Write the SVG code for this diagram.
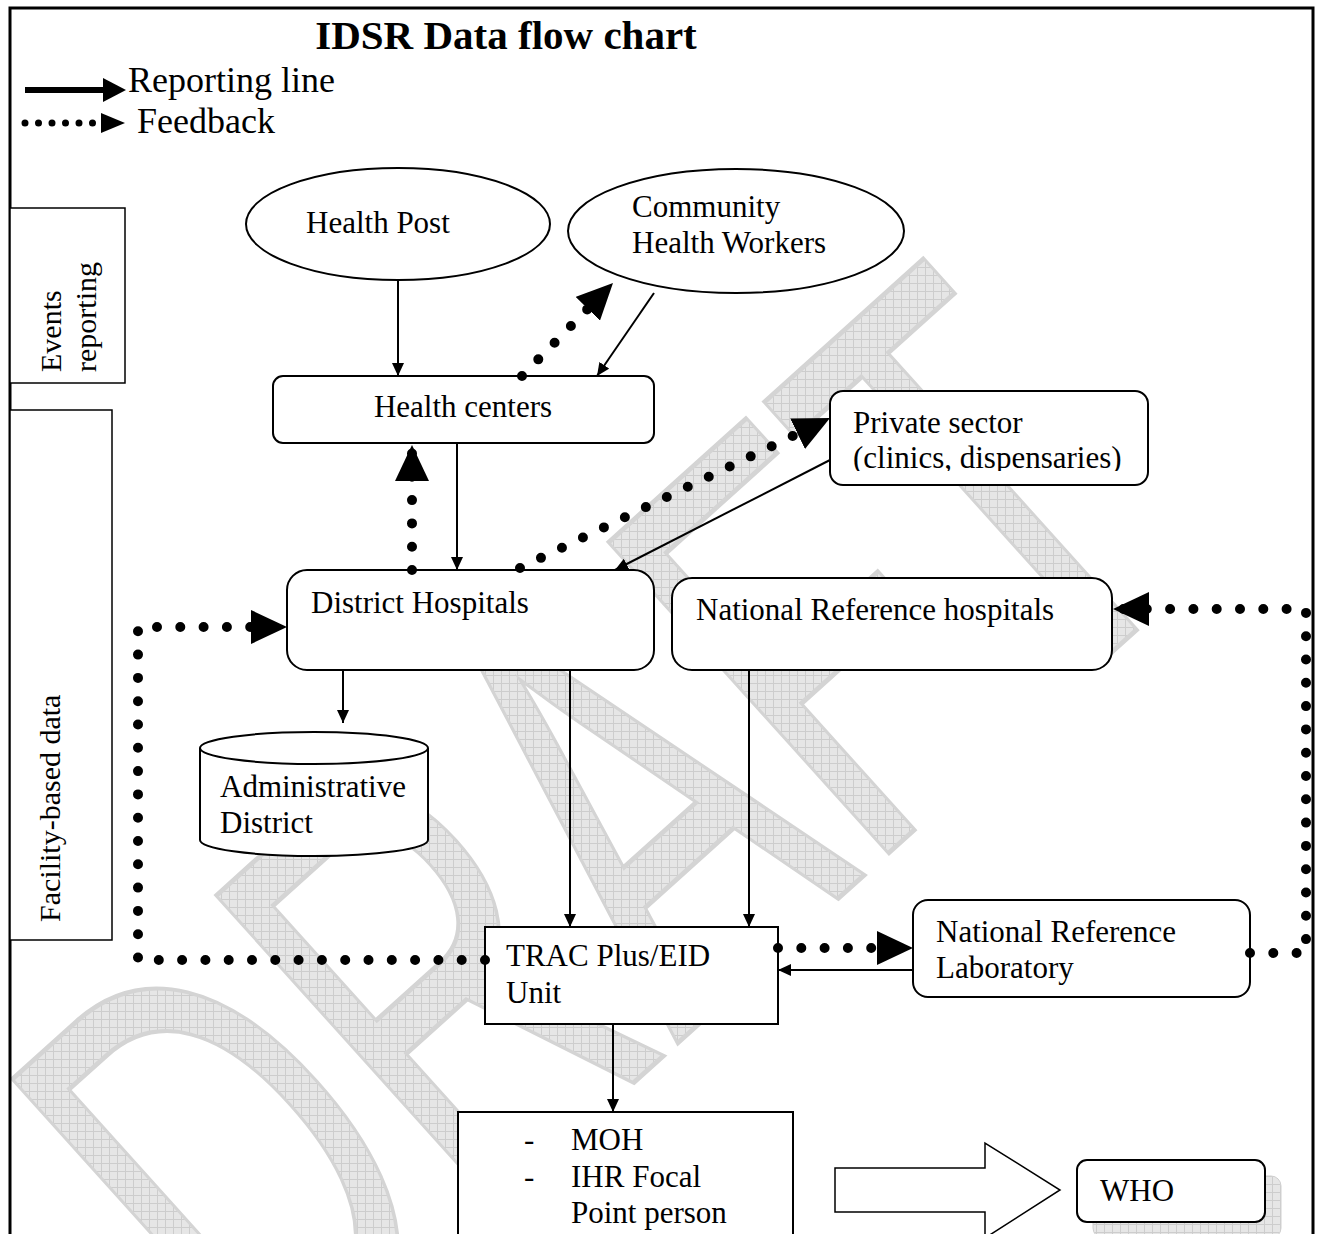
<svg xmlns="http://www.w3.org/2000/svg" width="1320" height="1234" viewBox="0 0 1320 1234">
<style>
text{font-family:"Liberation Serif","Times New Roman",serif;font-size:31px;fill:#000}
.title{font-size:41px;font-weight:bold}
.leg{font-size:36px}
.box{fill:#fff;stroke:#000;stroke-width:2}
.solid{fill:none;stroke:#000;stroke-width:2;marker-end:url(#sa)}
.dot{fill:none;stroke:#000;stroke-width:10;stroke-linecap:round;stroke-dasharray:0 23.3;marker-end:url(#da)}
</style>
<defs>
<pattern id="hatch" width="8" height="8" patternUnits="userSpaceOnUse">
<rect width="8" height="8" fill="#e6e6e6"/>
<path d="M0,0.5H8M0.5,0V8" stroke="#cdcdcd" stroke-width="1"/>
</pattern>
<pattern id="hatchR" width="8" height="8" patternUnits="userSpaceOnUse" patternTransform="scale(1,0.625) rotate(42)">
<rect width="8" height="8" fill="#e6e6e6"/>
<path d="M0,0.5H8M0.5,0V8" stroke="#cdcdcd" stroke-width="1"/>
</pattern>
<marker id="sa" markerUnits="userSpaceOnUse" markerWidth="13" markerHeight="12" refX="13" refY="6" orient="auto">
<path d="M0,0L13,6L0,12z" fill="#000"/>
</marker>
<marker id="da" markerUnits="userSpaceOnUse" markerWidth="36" markerHeight="34" refX="36" refY="17" orient="auto">
<path d="M0,0L36,17L0,34z" fill="#000"/>
</marker>
<clipPath id="psclip"><rect x="830" y="391" width="318" height="80"/></clipPath>
</defs>

<g id="watermark">
<text x="0" y="0" transform="translate(269,1411) rotate(-42) scale(1,1.6)" style="font-family:'Liberation Sans',Arial,sans-serif;font-size:380px;fill:url(#hatchR);stroke:#d4d4d4;stroke-width:3">DRAFT</text>
</g>

<path id="border" d="M10,1234V8H1313V1234" fill="none" stroke="#000" stroke-width="3"/>

<g id="title"><text class="title" x="506" y="49" text-anchor="middle">IDSR Data flow chart</text></g>

<g id="legend">
<path d="M25,90H105" stroke="#000" stroke-width="6"/>
<path d="M103,78L126,90L103,102z" fill="#000"/>
<text class="leg" x="128" y="92">Reporting line</text>
<path d="M25,123H100" stroke="#000" stroke-width="7" stroke-linecap="round" stroke-dasharray="0 13.5" fill="none"/>
<path d="M101,113L125,123L101,133z" fill="#000"/>
<text class="leg" x="137" y="133">Feedback</text>
</g>

<g id="events-reporting">
<rect x="10" y="208" width="115" height="175" fill="#fff" stroke="#000" stroke-width="1.5"/>
<text transform="translate(61,372) rotate(-90)" style="font-size:30px">Events</text>
<text transform="translate(96,372) rotate(-90)" style="font-size:30px">reporting</text>
</g>

<g id="facility-based-data">
<rect x="10" y="410" width="102" height="530" fill="#fff" stroke="#000" stroke-width="1.5"/>
<text transform="translate(60,922) rotate(-90)" style="font-size:30px">Facility-based data</text>
</g>

<g id="health-post">
<ellipse class="box" cx="398" cy="224" rx="152" ry="56"/>
<text x="306" y="233">Health Post</text>
</g>

<g id="community-health-workers">
<ellipse class="box" cx="736" cy="231" rx="168" ry="62"/>
<text x="632" y="217">Community</text>
<text x="632" y="253">Health Workers</text>
</g>

<g id="health-centers">
<rect class="box" x="273" y="376" width="381" height="67" rx="10"/>
<text x="463" y="417" text-anchor="middle">Health centers</text>
</g>

<g id="private-sector">
<rect class="box" x="830" y="391" width="318" height="94" rx="13"/>
<g clip-path="url(#psclip)">
<text x="853" y="433">Private sector</text>
<text x="853" y="468">(clinics, dispensaries)</text>
</g>
</g>

<g id="district-hospitals">
<rect class="box" x="287" y="570" width="367" height="100" rx="20"/>
<text x="311" y="613">District Hospitals</text>
</g>

<g id="national-reference-hospitals">
<rect class="box" x="672" y="578" width="440" height="92" rx="20"/>
<text x="696" y="620">National Reference hospitals</text>
</g>

<g id="administrative-district">
<path class="box" d="M200,748V840A114,16 0 0 0 428,840V748A114,16 0 0 0 200,748z"/>
<path d="M200,748A114,16 0 0 0 428,748" fill="none" stroke="#000" stroke-width="2"/>
<text x="220" y="797">Administrative</text>
<text x="220" y="833">District</text>
</g>

<g id="trac-plus-eid-unit">
<rect class="box" x="485" y="927" width="293" height="97"/>
<text x="506" y="966">TRAC Plus/EID</text>
<text x="506" y="1003">Unit</text>
</g>

<g id="national-reference-laboratory">
<rect class="box" x="913" y="900" width="337" height="97" rx="15"/>
<text x="936" y="942">National Reference</text>
<text x="936" y="978">Laboratory</text>
</g>

<g id="moh">
<rect class="box" x="458" y="1112" width="335" height="140"/>
<text x="524" y="1150">-</text><text x="571" y="1150">MOH</text>
<text x="524" y="1187">-</text><text x="571" y="1187">IHR Focal</text>
<text x="571" y="1223">Point person</text>
</g>

<g id="block-arrow">
<path d="M835,1168H985V1143L1060,1190L985,1238V1212H835z" fill="#fff" stroke="#000" stroke-width="1.5"/>
</g>

<g id="who">
<rect x="1093" y="1176" width="188" height="62" rx="10" fill="url(#hatch)" stroke="#cfcfcf"/>
<rect class="box" x="1077" y="1160" width="188" height="62" rx="10"/>
<text x="1100" y="1201">WHO</text>
</g>

<g id="connectors">
<path class="solid" d="M398,281V376"/>
<path class="solid" d="M654,293L597,376"/>
<path class="solid" d="M457,443V570"/>
<path class="solid" d="M830,460L615,570"/>
<path class="solid" d="M343,670V723"/>
<path class="solid" d="M570,670V927"/>
<path class="solid" d="M749,670V927"/>
<path class="solid" d="M913,970H778"/>
<path class="solid" d="M613,1024V1112"/>
<path class="dot" d="M522,376L613,283"/>
<path class="dot" d="M412,570V445"/>
<path class="dot" d="M520,568L830,418"/>
<path class="dot" d="M485,960H138V627H287"/>
<path class="dot" d="M778,948H913"/>
<path class="dot" d="M1250,953H1306V609H1113"/>
</g>
</svg>
